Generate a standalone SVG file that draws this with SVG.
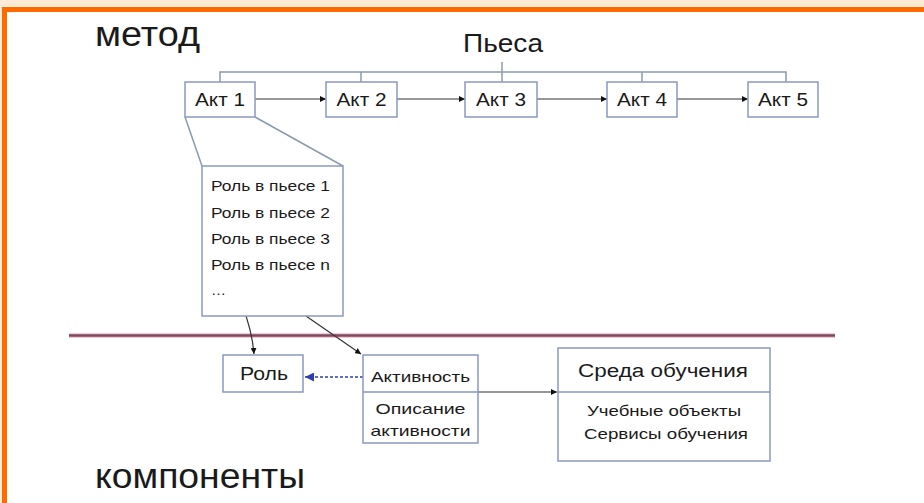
<svg xmlns="http://www.w3.org/2000/svg" width="924" height="503" viewBox="0 0 924 503">
<defs>
<style>
text{font-family:"Liberation Sans",Arial,sans-serif;fill:#1a1a1a}
.box{fill:#fff;stroke:#8a98c4;stroke-width:1.5}
.ln{fill:none;stroke:#8c9aae;stroke-width:1.5}
.ar{fill:none;stroke:#333;stroke-width:1.2}
.lbl{font-size:18px;text-anchor:middle}
.sm{font-size:15px}
.c{text-anchor:middle}
</style>
<marker id="ah" viewBox="0 0 10 10" refX="10" refY="5" markerWidth="6" markerHeight="6" orient="auto" markerUnits="userSpaceOnUse"><path d="M0,0L10,5L0,10z" fill="#111"/></marker>
<marker id="ahb" viewBox="0 0 10 10" refX="10" refY="5" markerWidth="9" markerHeight="9" orient="auto" markerUnits="userSpaceOnUse"><path d="M0,0L10,5L0,10z" fill="#2a3fb0"/></marker>
</defs>
<rect x="0" y="0" width="924" height="503" fill="#fff"/>
<rect x="0" y="0" width="924" height="7" fill="#fdebd6"/>
<rect x="0" y="0" width="2" height="503" fill="#fdebd6"/>
<rect x="2" y="7" width="922" height="5" fill="#ff6a00"/>
<rect x="2" y="7" width="5" height="496" fill="#ff6a00"/>
<line x1="69" y1="335.5" x2="835" y2="335.5" stroke="#f7c6d2" stroke-width="5"/>
<line x1="69" y1="335.5" x2="835" y2="335.5" stroke="#7a4a5e" stroke-width="2.5"/>
<text x="95" y="46" style="font-size:35px" textLength="105" lengthAdjust="spacingAndGlyphs">метод</text>
<text x="95" y="488" style="font-size:35px" textLength="210" lengthAdjust="spacingAndGlyphs">компоненты</text>
<g id="connectors">
<polyline class="ln" points="502,62 502,72"/>
<polyline class="ln" points="220,82 220,72 786,72 786,82"/>
<line class="ln" x1="361" y1="72" x2="361" y2="82"/>
<line class="ln" x1="502" y1="72" x2="502" y2="82"/>
<line class="ln" x1="642" y1="72" x2="642" y2="82"/>
<line class="ar" x1="255" y1="99" x2="326" y2="99" marker-end="url(#ah)"/>
<line class="ar" x1="397" y1="99" x2="465" y2="99" marker-end="url(#ah)"/>
<line class="ar" x1="537" y1="99" x2="607" y2="99" marker-end="url(#ah)"/>
<line class="ar" x1="677" y1="99" x2="748" y2="99" marker-end="url(#ah)"/>
<line class="ln" x1="185" y1="117" x2="202" y2="166"/>
<line class="ln" x1="255" y1="117" x2="343" y2="166"/>
<path class="ar" d="M242,305 Q252,330 254,354" marker-end="url(#ah)"/>
<line class="ar" x1="290" y1="305" x2="361" y2="354" marker-end="url(#ah)"/>
<line x1="363" y1="377" x2="305" y2="377" stroke="#2a3fb0" stroke-width="1.5" stroke-dasharray="3,2" marker-end="url(#ahb)"/>
<line class="ar" x1="478" y1="392" x2="557" y2="392" marker-end="url(#ah)"/>
</g>
<g id="piesa"><text class="c" x="503" y="52" style="font-size:26px" textLength="80" lengthAdjust="spacingAndGlyphs">Пьеса</text></g>
<g id="akt1"><rect class="box" x="185" y="82" width="70" height="35"/><text class="lbl" x="220" y="106" textLength="50" lengthAdjust="spacingAndGlyphs">Акт 1</text></g>
<g id="akt2"><rect class="box" x="326" y="82" width="71" height="35"/><text class="lbl" x="361.5" y="106" textLength="50" lengthAdjust="spacingAndGlyphs">Акт 2</text></g>
<g id="akt3"><rect class="box" x="465" y="82" width="72" height="35"/><text class="lbl" x="501" y="106" textLength="50" lengthAdjust="spacingAndGlyphs">Акт 3</text></g>
<g id="akt4"><rect class="box" x="607" y="82" width="70" height="35"/><text class="lbl" x="642" y="106" textLength="50" lengthAdjust="spacingAndGlyphs">Акт 4</text></g>
<g id="akt5"><rect class="box" x="748" y="82" width="70" height="35"/><text class="lbl" x="783" y="106" textLength="50" lengthAdjust="spacingAndGlyphs">Акт 5</text></g>
<g id="roles"><rect class="box" x="202" y="166" width="141" height="150"/>
<text class="sm" x="211" y="191" textLength="119" lengthAdjust="spacingAndGlyphs">Роль в пьесе 1</text>
<text class="sm" x="211" y="218" textLength="119" lengthAdjust="spacingAndGlyphs">Роль в пьесе 2</text>
<text class="sm" x="211" y="244" textLength="119" lengthAdjust="spacingAndGlyphs">Роль в пьесе 3</text>
<text class="sm" x="211" y="270" textLength="119" lengthAdjust="spacingAndGlyphs">Роль в пьесе n</text>
<text class="sm" x="211" y="295" fill="#888">…</text></g>
<g id="rol"><rect class="box" x="223" y="355" width="80" height="37"/><text class="lbl" x="264" y="380" textLength="48" lengthAdjust="spacingAndGlyphs">Роль</text></g>
<g id="aktivnost"><rect class="box" x="363" y="355" width="115" height="88"/><line class="box" x1="363" y1="392" x2="478" y2="392"/>
<text class="sm c" x="420.5" y="382" textLength="99" lengthAdjust="spacingAndGlyphs">Активность</text>
<text class="sm c" x="420.5" y="414" textLength="90" lengthAdjust="spacingAndGlyphs">Описание</text>
<text class="sm c" x="420.5" y="436" textLength="100" lengthAdjust="spacingAndGlyphs">активности</text></g>
<g id="sreda"><rect class="box" x="558" y="348" width="212" height="113"/><line class="box" x1="558" y1="392" x2="770" y2="392"/>
<text class="lbl" x="663" y="377" textLength="170" lengthAdjust="spacingAndGlyphs">Среда обучения</text>
<text class="sm c" x="664" y="416" textLength="154" lengthAdjust="spacingAndGlyphs">Учебные объекты</text>
<text class="sm c" x="666" y="439" textLength="164" lengthAdjust="spacingAndGlyphs">Сервисы обучения</text></g>
</svg>
